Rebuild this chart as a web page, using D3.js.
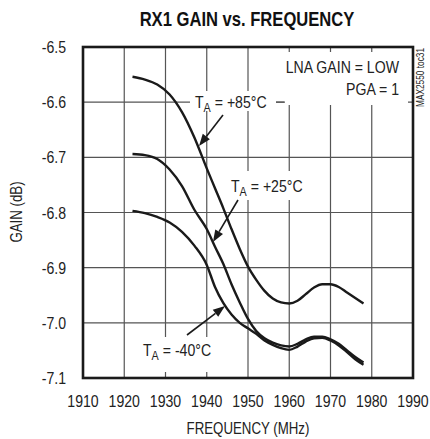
<!DOCTYPE html>
<html><head><meta charset="utf-8">
<script src="https://cdn.jsdelivr.net/npm/d3@7"></script>
<style>
body{margin:0;background:#fff;}
text{font-family:"Liberation Sans Narrow","Liberation Sans",Arial,sans-serif;fill:#222;}
</style></head>
<body><svg id="c" width="430" height="439"></svg>
<script>
const freq = [1922,1925,1928,1931,1934,1937,1940,1942,1944,1946,1948,1950,1952,1954,1956,1958,1960,1962,1964,1966,1968,1970,1972,1974,1976,1978];
const gain85 = [-6.554,-6.559,-6.568,-6.586,-6.618,-6.664,-6.720,-6.756,-6.792,-6.830,-6.866,-6.898,-6.922,-6.942,-6.956,-6.963,-6.965,-6.960,-6.948,-6.936,-6.930,-6.930,-6.935,-6.945,-6.955,-6.965];
const gain25 = [-6.694,-6.696,-6.703,-6.722,-6.752,-6.795,-6.830,-6.862,-6.893,-6.930,-6.963,-6.993,-7.015,-7.028,-7.036,-7.041,-7.043,-7.038,-7.030,-7.025,-7.025,-7.030,-7.038,-7.050,-7.062,-7.072];
const gainM40 = [-6.797,-6.801,-6.808,-6.818,-6.835,-6.860,-6.895,-6.935,-6.964,-6.985,-7.000,-7.010,-7.020,-7.032,-7.040,-7.046,-7.049,-7.043,-7.034,-7.028,-7.027,-7.032,-7.041,-7.053,-7.066,-7.076];
const xTicks = [1910,1920,1930,1940,1950,1960,1970,1980,1990];
const yTicks = [-6.5,-6.6,-6.7,-6.8,-6.9,-7.0,-7.1];
const yTickLabels = ["-6.5","-6.6","-6.7","-6.8","-6.9","-7.0","-7.1"];

const svg = d3.select("#c");
const L=83,R=413,T=47,B=378;
const SX=0.83;
const x = d3.scaleLinear().domain([1910,1990]).range([L,R]);
const y = d3.scaleLinear().domain([-7.1,-6.5]).range([B,T]);

function txt(px,py,str,size,anchor,rot,extra){
  const g = svg.append("g").attr("transform",`translate(${px},${py})${rot?` rotate(${rot})`:""} scale(${SX},1)`);
  const t = g.append("text").attr("x",0).attr("y",0).attr("font-size",size).attr("text-anchor",anchor||"start");
  if(str!==null) t.text(str);
  if(extra) extra(t);
  return t;
}

// grid
svg.append("g").selectAll("line").data(xTicks.slice(1,-1)).join("line")
  .attr("x1",d=>x(d)).attr("x2",d=>x(d)).attr("y1",T).attr("y2",B)
  .attr("stroke","#555").attr("stroke-width",1.2);
svg.append("g").selectAll("line").data(yTicks.slice(1,-1)).join("line")
  .attr("y1",d=>y(d)).attr("y2",d=>y(d)).attr("x1",L).attr("x2",R)
  .attr("stroke","#555").attr("stroke-width",1.2);

// label backgrounds (gaps in grid)
const bg = [[190,91,86,20],[285,52,123,53],[226,171,82,29],[138,337,84,35]];
svg.append("g").selectAll("rect").data(bg).join("rect")
  .attr("x",d=>d[0]).attr("y",d=>d[1]).attr("width",d=>d[2]).attr("height",d=>d[3]).attr("fill","#fff");

// curves
const line = d3.line().x((d,i)=>x(freq[i])).y(d=>y(d)).curve(d3.curveMonotoneX);
[gain85,gain25,gainM40].forEach(s=>{
  svg.append("path").attr("d",line(s)).attr("fill","none").attr("stroke","#1a1a1a").attr("stroke-width",2.4);
});

// frame
svg.append("rect").attr("x",L).attr("y",T).attr("width",R-L).attr("height",B-T)
  .attr("fill","none").attr("stroke","#1a1a1a").attr("stroke-width",2.6);

// tick labels
xTicks.forEach(d=>txt(x(d),407,String(d),17,"middle"));
yTicks.forEach((d,i)=>txt(66,y(d)+6,yTickLabels[i],17,"end"));

// axis titles
txt(248,434,"FREQUENCY (MHz)",16,"middle");
txt(22,212,"GAIN (dB)",16,"middle",-90);
txt(247,26,"RX1 GAIN vs. FREQUENCY",20,"middle",0,t=>t.attr("font-weight","bold").style("fill","#111"));
txt(424,48,"MAX2550 toc31",10,"end",-90);

// annotations
txt(399,73,"LNA GAIN = LOW",17,"end");
txt(399,95,"PGA = 1",17,"end");

function tlabel(px,py,rest){
  txt(px,py,null,17,"start",0,t=>{
    t.append("tspan").text("T");
    t.append("tspan").attr("font-size",13).attr("dy",4).text("A");
    t.append("tspan").attr("dy",-4).text(" = "+rest);
  });
}
tlabel(195,108,"+85°C");
tlabel(231,192,"+25°C");
tlabel(143,356,"-40°C");
svg.append("line").attr("x1",276).attr("x2",284).attr("y1",y(-6.6)).attr("y2",y(-6.6)).attr("stroke","#555").attr("stroke-width",1.2);

// arrows
const arrows = [[223,115,199,146],[238,200,213,242],[187,335,225,306]];
arrows.forEach(a=>{
  const [x1,y1,x2,y2]=a;
  const ang=Math.atan2(y2-y1,x2-x1), len=12, w=4.5;
  const bx=x2-len*Math.cos(ang), by=y2-len*Math.sin(ang);
  svg.append("line").attr("x1",x1).attr("y1",y1).attr("x2",bx).attr("y2",by).attr("stroke","#1a1a1a").attr("stroke-width",1.6);
  const px=-Math.sin(ang)*w, py=Math.cos(ang)*w;
  svg.append("path").attr("d",`M${x2},${y2}L${bx+px},${by+py}L${bx-px},${by-py}Z`).attr("fill","#1a1a1a");
});
</script></body></html>
